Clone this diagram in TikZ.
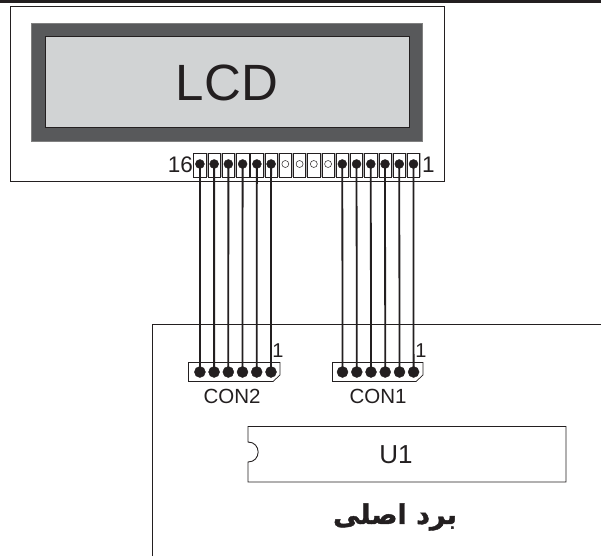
\documentclass[tikz,border=0pt]{standalone}
\usepackage{fontspec}
\setmainfont{Liberation Sans}
\newfontfamily\arabicfont[Script=Arabic,FakeBold=1.6]{DejaVu Sans Bold}
\TeXXeTstate=1
\definecolor{ink}{HTML}{231F20}
\definecolor{framegray}{HTML}{58595B}
\definecolor{screengray}{HTML}{D1D3D4}
\tikzset{
  outline/.style={draw=ink,line width=0.9pt},
  pinbox/.style={draw=ink,line width=0.6pt,fill=white,minimum width=12.4pt,minimum height=24pt,inner sep=0pt},
  fulldot/.style={circle,fill=ink,draw=ink,minimum size=9pt,inner sep=0pt},
  condot/.style={fulldot,minimum size=11pt},
  opendot/.style={circle,fill=white,draw=ink,line width=0.5pt,minimum size=7pt,inner sep=0pt},
  wire/.style={draw=ink,line width=1.8pt},
  lbl/.style={inner sep=0pt,text=ink}
}
\begin{document}
\begin{tikzpicture}[x=1pt,y=-1pt]
\useasboundingbox (0,0) rectangle (601,556);
\fill[ink] (0,0) rectangle (601,3);
% LCD
\draw[outline] (10.5,6.5) rectangle (444,181);
\draw[draw=gray,line width=0.6pt,fill=framegray] (31.5,23.5) rectangle (422,141);
\draw[draw=ink,line width=0.8pt,fill=screengray] (45,36) rectangle (409,127);
\node[lbl,font=\fontsize{51}{51}\selectfont] (lcd) at (227,83) {LCD};
% pins
\fill[gray!60] (193,153) rectangle (420.5,177);
\foreach \i in {1,...,16}{
  \pgfmathsetmacro{\px}{199.9+(\i-1)*14.24}
  \node[pinbox] (box\i) at (\px,165) {};
  \ifnum\i=7 \node[opendot] (pin\i) at (\px,164) {};
  \else\ifnum\i=8 \node[opendot] (pin\i) at (\px,164) {};
  \else\ifnum\i=9 \node[opendot] (pin\i) at (\px,164) {};
  \else\ifnum\i=10 \node[opendot] (pin\i) at (\px,164) {};
  \else \node[fulldot] (pin\i) at (\px,164) {};
  \fi\fi\fi\fi
}
\node[lbl,anchor=east,font=\fontsize{22.5}{22.5}\selectfont] (n16) at (193,165) {16};
\node[lbl,anchor=west,font=\fontsize{22.5}{22.5}\selectfont] (n1) at (422,165) {1};
% board
\draw[outline] (152,556) -- (152,324.5) -- (601,324.5);
% connectors
\draw[outline,line width=0.7pt] (188.5,362.5) -- (280,362.5) -- (280,375) -- (273,381.5) -- (188.5,381.5) -- cycle;
\draw[outline,line width=0.7pt] (332.5,362.5) -- (423,362.5) -- (423,375) -- (416,381.5) -- (332.5,381.5) -- cycle;
\foreach \i/\x in {1/199.9,2/214.1,3/228.3,4/242.5,5/256.7,6/271}{
  \node[condot] (cb\i) at (\x,372) {};
  \draw[wire] (pin\i.center) -- (cb\i.center);
}
\foreach \i/\p/\x in {1/11/342.5,2/12/356.8,3/13/371,4/14/385.2,5/15/399.5,6/16/413.6}{
  \node[condot] (ca\i) at (\x,372) {};
  \draw[wire] (pin\p.center) -- (ca\i.center);
}
\node[lbl,font=\fontsize{20}{20}\selectfont] (c2one) at (278,351) {1};
\node[lbl,font=\fontsize{20}{20}\selectfont] (c1one) at (421,351) {1};
\node[lbl,font=\fontsize{20.5}{20.5}\selectfont] (con2) at (232,396) {CON2};
\node[lbl,font=\fontsize{20.5}{20.5}\selectfont] (con1) at (378,396) {CON1};
% U1
\draw[outline] (248,426.5) -- (566,426.5) -- (566,482) -- (248,482) -- (248,462)
  .. controls (261.5,462) and (261.5,442) .. (248,442) -- cycle;
\node[lbl,font=\fontsize{26}{26}\selectfont] (u1) at (396,455) {U1};
\node[lbl,font=\arabicfont\fontsize{27}{27}\selectfont] (board) at (395,517) {\beginR برد اصلی\endR};
\end{tikzpicture}
\end{document}
